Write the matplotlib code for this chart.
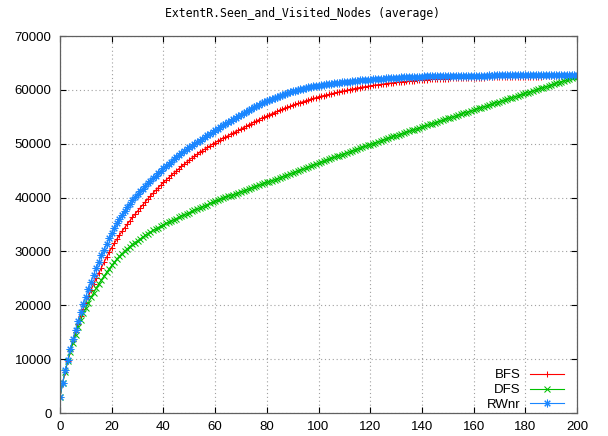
import numpy as np
import matplotlib
matplotlib.use("Agg")
import matplotlib.pyplot as plt

# average number of seen and visited nodes per step
bfs = [3000, 5500, 7700, 9700, 11600, 13400, 15100, 16600, 18000, 19300,
       20500, 21700, 22850, 23950, 25000, 26000, 26990, 27960, 28910, 29820,
       30700, 31500, 32280, 33030, 33740, 34400, 35050, 35680, 36300, 36910,
       37500, 38080, 38650, 39210, 39760, 40300, 40820, 41330, 41830, 42320,
       42800, 43250, 43690, 44120, 44540, 44950, 45370, 45780, 46190, 46600,
       47000, 47350, 47700, 48040, 48370, 48700, 49010, 49310, 49610, 49910,
       50200, 50470, 50730, 50990, 51250, 51500, 51750, 52000, 52250, 52500,
       52750, 53000, 53250, 53500, 53750, 54000, 54240, 54480, 54710, 54930,
       55150, 55370, 55580, 55790, 56000, 56200, 56400, 56590, 56780, 56970,
       57150, 57320, 57490, 57650, 57800, 57950, 58100, 58250, 58400, 58550,
       58700, 58820, 58940, 59060, 59180, 59300, 59410, 59520, 59630, 59740,
       59850, 59950, 60050, 60150, 60250, 60350, 60430, 60510, 60590, 60670,
       60750, 60820, 60890, 60960, 61030, 61100, 61160, 61220, 61280, 61340,
       61400, 61450, 61500, 61550, 61600, 61650, 61690, 61730, 61770, 61810,
       61850, 61880, 61910, 61940, 61970, 62000, 62020, 62040, 62060, 62080,
       62100, 62120, 62130, 62150, 62160, 62180, 62190, 62210, 62220, 62240,
       62250, 62260, 62270, 62280, 62290, 62300, 62310, 62320, 62330, 62340,
       62350, 62360, 62370, 62380, 62390, 62400, 62410, 62420, 62430, 62440,
       62450, 62455, 62460, 62465, 62470, 62475, 62480, 62485, 62490, 62495,
       62500, 62505, 62510, 62515, 62520, 62525, 62530, 62535, 62540, 62545,
       62550]

dfs = [3000, 5500, 7700, 9600, 11400, 13000, 14500, 15900, 17300, 18500,
       19500, 20500, 21450, 22350, 23200, 23950, 24700, 25400, 26100, 26750,
       27400, 28000, 28600, 29100, 29600, 30050, 30500, 30900, 31300, 31650,
       32000, 32340, 32670, 33000, 33300, 33600, 33900, 34170, 34440, 34700,
       34950, 35190, 35420, 35650, 35880, 36100, 36330, 36550, 36770, 36990,
       37200, 37420, 37640, 37860, 38070, 38290, 38500, 38700, 38900, 39100,
       39300, 39500, 39700, 39870, 40040, 40210, 40380, 40550, 40720, 40900,
       41080, 41250, 41430, 41600, 41780, 41950, 42120, 42290, 42460, 42630,
       42800, 42980, 43150, 43330, 43500, 43680, 43850, 44030, 44210, 44390,
       44570, 44750, 44930, 45110, 45290, 45480, 45660, 45850, 46030, 46220,
       46400, 46580, 46750, 46930, 47100, 47280, 47450, 47630, 47800, 47980,
       48150, 48320, 48490, 48660, 48830, 49000, 49170, 49340, 49510, 49680,
       49850, 50020, 50180, 50350, 50510, 50680, 50840, 51010, 51170, 51340,
       51500, 51660, 51820, 51980, 52140, 52300, 52460, 52620, 52780, 52940,
       53100, 53260, 53420, 53580, 53740, 53900, 54060, 54220, 54380, 54540,
       54700, 54855, 55010, 55165, 55320, 55475, 55630, 55785, 55940, 56095,
       56250, 56405, 56560, 56715, 56870, 57025, 57180, 57335, 57490, 57645,
       57800, 57955, 58110, 58265, 58420, 58575, 58730, 58885, 59040, 59195,
       59350, 59505, 59660, 59815, 59970, 60125, 60280, 60435, 60590, 60745,
       60900, 61055, 61210, 61365, 61520, 61675, 61830, 61985, 62140, 62295,
       62450]

rwnr = [3000, 5600, 7900, 9900, 11900, 13800, 15500, 17100, 18700, 20200,
        21600, 23000, 24350, 25650, 26900, 28100, 29250, 30350, 31400, 32420,
        33400, 34330, 35200, 36000, 36770, 37500, 38190, 38850, 39470, 40050,
        40600, 41130, 41650, 42150, 42630, 43100, 43580, 44050, 44510, 44960,
        45400, 45840, 46270, 46690, 47100, 47500, 47880, 48250, 48610, 48960,
        49300, 49630, 49960, 50280, 50590, 50900, 51220, 51540, 51860, 52180,
        52500, 52800, 53100, 53400, 53700, 54000, 54290, 54570, 54850, 55130,
        55400, 55680, 55950, 56220, 56490, 56750, 57000, 57250, 57490, 57720,
        57950, 58160, 58370, 58570, 58760, 58950, 59120, 59290, 59450, 59600,
        59750, 59880, 60010, 60130, 60240, 60350, 60450, 60540, 60630, 60720,
        60800, 60880, 60950, 61020, 61090, 61150, 61210, 61270, 61340, 61400,
        61450, 61500, 61550, 61600, 61650, 61700, 61740, 61780, 61820, 61860,
        61900, 61940, 61980, 62020, 62060, 62100, 62130, 62160, 62190, 62220,
        62250, 62280, 62300, 62330, 62350, 62380, 62400, 62420, 62440, 62460,
        62480, 62490, 62500, 62510, 62520, 62530, 62550, 62560, 62570, 62580,
        62600, 62600, 62610, 62610, 62620, 62620, 62630, 62630, 62640, 62640,
        62650, 62650, 62660, 62650, 62660, 62660, 62670, 62660, 62670, 62670,
        62670, 62680, 62670, 62680, 62680, 62680, 62690, 62680, 62690, 62690,
        62690, 62690, 62700, 62690, 62700, 62700, 62700, 62700, 62710, 62700,
        62710, 62700, 62710, 62710, 62710, 62720, 62710, 62720, 62720, 62720,
        62720]

series = [("BFS", bfs, "#ff0000", "+", 5),
          ("DFS", dfs, "#00c000", "x", 4),
          ("RWnr", rwnr, "#1a86ff", (8, 2, 0), 5.5)]

xticks = list(range(0, 201, 20))
yticks = list(range(0, 70001, 10000))

fig = plt.figure(figsize=(6.08, 4.36), dpi=100)
ax = fig.add_axes([60 / 608, 1 - 413 / 436, 517 / 608, 377 / 436])

for name, vals, col, mk, ms in series:
    ax.plot(np.arange(len(vals)), vals, color=col, lw=0.8, marker=mk,
            ms=ms, mew=0.75, label=name)

ax.set_xlim(0, 200)
ax.set_ylim(0, 70000)
ax.set_xticks(xticks)
ax.set_yticks(yticks)
ax.grid(True, color="#a0a0a0", lw=0.8, linestyle=(0, (1, 2.5)))
ax.tick_params(direction="in", length=4, width=0.8, top=True, right=True,
               labelsize=9.5, pad=6)
for lab in ax.get_xticklabels() + ax.get_yticklabels():
    lab.set_family("Liberation Sans")
for sp in ax.spines.values():
    sp.set_color("#606060")
    sp.set_linewidth(0.9)

fig.text(0.497, 1 - 14 / 436, "ExtentR.Seen_and_Visited_Nodes (average)",
         ha="center", va="center", family="DejaVu Sans Mono", fontsize=8.3)

leg = ax.legend(loc="lower right", bbox_to_anchor=(0.975, 0.005),
                frameon=False, markerfirst=False, borderaxespad=0,
                borderpad=0, handlelength=2.6, handletextpad=0.7,
                labelspacing=0.2, prop={"family": "Liberation Sans", "size": 9.5})

fig.savefig("out.png", dpi=100)
